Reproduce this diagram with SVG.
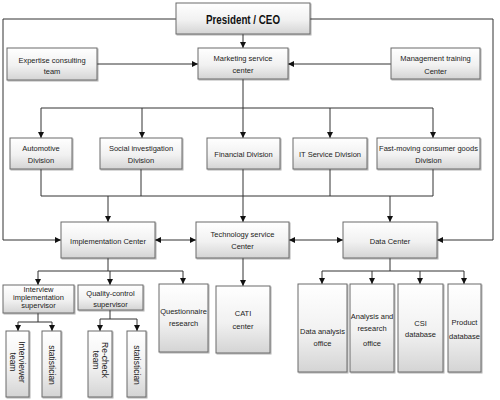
<svg xmlns="http://www.w3.org/2000/svg" width="500" height="400" viewBox="0 0 500 400">
<defs>
<linearGradient id="g" x1="0" y1="0" x2="0" y2="1">
<stop offset="0" stop-color="#ffffff"/>
<stop offset="0.55" stop-color="#f1f1f1"/>
<stop offset="1" stop-color="#d4d4d4"/>
</linearGradient>
<filter id="sh" x="-10%" y="-10%" width="130%" height="130%">
<feDropShadow dx="1" dy="1" stdDeviation="0.6" flood-color="#000" flood-opacity="0.3"/>
</filter>
<marker id="ah" markerUnits="userSpaceOnUse" markerWidth="6" markerHeight="6" refX="6" refY="3" orient="auto-start-reverse">
<path d="M0,0 L6,3 L0,6 z" fill="#111"/>
</marker>
<style>
.box{fill:url(#g);stroke:#6a6a6a;stroke-width:1;filter:url(#sh)}
.t{font-family:"Liberation Sans",Arial,sans-serif;font-size:7.5px;fill:#222;text-anchor:middle}
.v{font-family:"Liberation Sans",Arial,sans-serif;font-size:8.5px;fill:#222;text-anchor:middle}
.ln{stroke:#333;stroke-width:1;fill:none}
.a{marker-end:url(#ah)}
.aa{marker-start:url(#ah);marker-end:url(#ah)}
</style>
</defs>
<rect width="500" height="400" fill="#ffffff"/>

<g id="connectors">
<path class="ln a" d="M243,34 V48"/>
<path class="ln a" d="M97,64 H198"/>
<path class="ln a" d="M391,64 H288"/>
<path class="ln a" d="M176,19 H3 V240 H61"/>
<path class="ln a" d="M310,19 H493 V240 H437"/>
<path class="ln" d="M243,79 V108 M41,108 H433"/>
<path class="ln a" d="M41,108 V138"/>
<path class="ln a" d="M142,108 V138"/>
<path class="ln a" d="M243,108 V138"/>
<path class="ln a" d="M330,108 V138"/>
<path class="ln a" d="M433,108 V138"/>
<path class="ln" d="M41,169 V196 M141,169 V196 M330,169 V196 M433,169 V196 M41,196 H433"/>
<path class="ln a" d="M243,169 V222"/>
<path class="ln a" d="M108,196 V222"/>
<path class="ln a" d="M390,196 V222"/>
<path class="ln aa" d="M155,240 H196"/>
<path class="ln aa" d="M289,240 H343"/>
<path class="ln" d="M108,258 V271 M38,271 H183"/>
<path class="ln a" d="M38,271 V285"/>
<path class="ln a" d="M110,271 V285"/>
<path class="ln a" d="M183,271 V284"/>
<path class="ln a" d="M243,258 V286"/>
<path class="ln" d="M390,258 V271 M322,271 H464"/>
<path class="ln a" d="M322,271 V284"/>
<path class="ln a" d="M372,271 V284"/>
<path class="ln a" d="M420,271 V284"/>
<path class="ln a" d="M464,271 V284"/>
<path class="ln" d="M38,313 V322 M18,322 H52"/>
<path class="ln a" d="M18,322 V331"/>
<path class="ln a" d="M52,322 V331"/>
<path class="ln" d="M110,310 V319 M100,319 H137"/>
<path class="ln a" d="M100,319 V331"/>
<path class="ln a" d="M137,319 V331"/>
</g>

<g id="president">
<rect class="box" x="176" y="3" width="134" height="31"/>
<text x="243" y="23.5" font-family="Liberation Sans,Arial,sans-serif" font-size="13" font-weight="bold" fill="#111" text-anchor="middle" textLength="74" lengthAdjust="spacingAndGlyphs">President / CEO</text>
</g>
<g id="expertise">
<rect class="box" x="7" y="48" width="90" height="32"/>
<text class="t" x="52" y="62.5">Expertise consulting</text>
<text class="t" x="52" y="73.5">team</text>
</g>
<g id="marketing">
<rect class="box" x="198" y="48" width="90" height="31"/>
<text class="t" x="243" y="60.5">Marketing service</text>
<text class="t" x="243" y="72.5">center</text>
</g>
<g id="management">
<rect class="box" x="391" y="48" width="89" height="31"/>
<text class="t" x="435.5" y="60.5">Management training</text>
<text class="t" x="435.5" y="73.5">Center</text>
</g>

<g id="automotive">
<rect class="box" x="10" y="138" width="62" height="31"/>
<text class="t" x="41" y="150.5">Automotive</text>
<text class="t" x="41" y="162.5">Division</text>
</g>
<g id="social">
<rect class="box" x="100" y="138" width="82" height="31"/>
<text class="t" x="141" y="150.5">Social investigation</text>
<text class="t" x="141" y="162.5">Division</text>
</g>
<g id="financial">
<rect class="box" x="207" y="138" width="73" height="31"/>
<text class="t" x="243.5" y="156.5">Financial Division</text>
</g>
<g id="itservice">
<rect class="box" x="293" y="138" width="74" height="31"/>
<text class="t" x="330" y="156.5">IT Service Division</text>
</g>
<g id="fmcg">
<rect class="box" x="377" y="138" width="103" height="31"/>
<text class="t" x="428.5" y="150.5">Fast-moving consumer goods</text>
<text class="t" x="428.5" y="162.5">Division</text>
</g>

<g id="implementation">
<rect class="box" x="61" y="222" width="94" height="36"/>
<text class="t" x="108" y="243.5">Implementation Center</text>
</g>
<g id="technology">
<rect class="box" x="196" y="222" width="93" height="36"/>
<text class="t" x="242.5" y="236.5">Technology service</text>
<text class="t" x="242.5" y="248.5">Center</text>
</g>
<g id="datacenter">
<rect class="box" x="343" y="222" width="94" height="36"/>
<text class="t" x="390" y="243.5">Data Center</text>
</g>

<g id="interview-supervisor">
<rect class="box" x="3" y="285" width="71" height="28"/>
<text class="t" x="38.5" y="291.5">Interview</text>
<text class="t" x="38.5" y="299.5">implementation</text>
<text class="t" x="38.5" y="307.5">supervisor</text>
</g>
<g id="qc-supervisor">
<rect class="box" x="78" y="285" width="65" height="25"/>
<text class="t" x="110.5" y="295.5">Quality-control</text>
<text class="t" x="110.5" y="306.5">supervisor</text>
</g>
<g id="questionnaire">
<rect class="box" x="159" y="284" width="49" height="68"/>
<text class="t" x="183.5" y="313.5">Questionnaire</text>
<text class="t" x="183.5" y="325.5">research</text>
</g>
<g id="cati">
<rect class="box" x="216" y="286" width="54" height="67"/>
<text class="t" x="243" y="315.5">CATI</text>
<text class="t" x="243" y="328.5">center</text>
</g>

<g id="data-analysis">
<rect class="box" x="298" y="284" width="49" height="88"/>
<text class="t" x="322.5" y="333.5">Data analysis</text>
<text class="t" x="322.5" y="345.5">office</text>
</g>
<g id="analysis-research">
<rect class="box" x="350" y="284" width="44" height="88"/>
<text class="t" x="372" y="318.5">Analysis and</text>
<text class="t" x="372" y="330.5">research</text>
<text class="t" x="372" y="345.5">office</text>
</g>
<g id="csi">
<rect class="box" x="398" y="284" width="45" height="88"/>
<text class="t" x="420.5" y="325.5">CSI</text>
<text class="t" x="420.5" y="336.5">database</text>
</g>
<g id="product">
<rect class="box" x="448" y="284" width="33" height="88"/>
<text class="t" x="464.5" y="324.5">Product</text>
<text class="t" x="464.5" y="338.5">database</text>
</g>

<g id="interviewer-team">
<rect class="box" x="6" y="331" width="23" height="66"/>
<g transform="translate(17.5,362) rotate(90)">
<text class="v" x="0" y="-1.5">Interviewer</text>
<text class="v" x="0" y="7.5">team</text>
</g>
</g>
<g id="statistician-1">
<rect class="box" x="42" y="331" width="19" height="66"/>
<text class="v" transform="translate(51.5,365) rotate(90)" x="0" y="3">statistician</text>
</g>
<g id="recheck-team">
<rect class="box" x="88" y="331" width="24" height="66"/>
<g transform="translate(100,360) rotate(90)">
<text class="v" x="0" y="-1.5">Re-check</text>
<text class="v" x="0" y="7.5">team</text>
</g>
</g>
<g id="statistician-2">
<rect class="box" x="127" y="331" width="19" height="66"/>
<text class="v" transform="translate(136.5,365) rotate(90)" x="0" y="3">statistician</text>
</g>
</svg>
